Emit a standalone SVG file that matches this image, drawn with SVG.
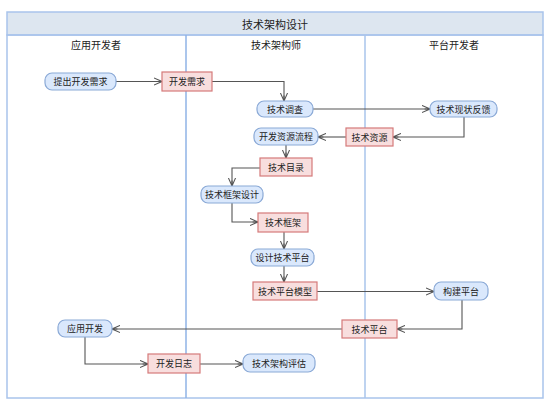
<svg xmlns="http://www.w3.org/2000/svg" width="554" height="408" viewBox="0 0 554 408">
<defs>
<style>
text{font-family:"Noto Sans CJK SC","Liberation Sans",sans-serif;font-size:9px;fill:#222;text-anchor:middle;dominant-baseline:central}
.t{font-size:11px}
.h{font-size:10px}
.b rect{fill:#dae8fc;stroke:#8aa9d6;stroke-width:1.2}
.r rect{fill:#f8dede;stroke:#d57a7a;stroke-width:1.2}
.c path{fill:none;stroke:#555;stroke-width:1.1;marker-end:url(#a)}
.lane{stroke:#a9c4eb;stroke-width:1.5;fill:none}
</style>
<marker id="a" viewBox="0 0 10 10" refX="9" refY="5" markerWidth="9" markerHeight="9" markerUnits="userSpaceOnUse" orient="auto">
<path d="M0,1 L9,5 L0,9 M3,5 L9,5" fill="none" stroke="#555" stroke-width="1.2"/>
</marker>
</defs>
<rect x="0" y="0" width="554" height="408" fill="#fff"/>
<g id="pool">
<rect x="7" y="12" width="536" height="23" fill="#dde6f0" stroke="#a9c4eb" stroke-width="1.5"/>
<rect x="7" y="35" width="536" height="363" class="lane"/>
<line x1="186" y1="35" x2="186" y2="398" stroke="#8fb3e6" stroke-width="1.5"/>
<line x1="365" y1="35" x2="365" y2="398" class="lane"/>
<text x="275" y="24" class="t">技术架构设计</text>
<text x="96" y="44" class="h">应用开发者</text>
<text x="276" y="44" class="h">技术架构师</text>
<text x="454" y="44" class="h">平台开发者</text>
</g>
<g id="connectors" class="c">
<path d="M116,81.5 H162"/>
<path d="M212,81.5 H284 V101"/>
<path d="M313,109 H430"/>
<path d="M464,117 V137 H393"/>
<path d="M346,137 H318"/>
<path d="M286,145 V158"/>
<path d="M260,168 H232 V186"/>
<path d="M232,203 V222 H258"/>
<path d="M284,232 V249"/>
<path d="M284,266 V282"/>
<path d="M317,291.5 H434"/>
<path d="M462,300 V329 H397"/>
<path d="M342,329 H112"/>
<path d="M85,337 V364 H148"/>
<path d="M200,364 H243"/>
</g>
<g id="n1" class="b"><rect x="45" y="73" width="71" height="17" rx="7"/><text x="80.5" y="81.5">提出开发需求</text></g>
<g id="n2" class="r"><rect x="162" y="72" width="50" height="19"/><text x="187" y="81.5">开发需求</text></g>
<g id="n3" class="b"><rect x="257" y="101" width="56" height="16" rx="7"/><text x="285" y="109">技术调查</text></g>
<g id="n4" class="b"><rect x="430" y="101" width="67" height="16" rx="7"/><text x="463.5" y="109">技术现状反馈</text></g>
<g id="n5" class="r"><rect x="346" y="128" width="47" height="18"/><text x="369.5" y="137">技术资源</text></g>
<g id="n6" class="b"><rect x="254" y="128" width="64" height="17" rx="7"/><text x="286" y="136.5">开发资源流程</text></g>
<g id="n7" class="r"><rect x="260" y="158" width="52" height="18"/><text x="286" y="167">技术目录</text></g>
<g id="n8" class="b"><rect x="201" y="186" width="62" height="17" rx="7"/><text x="232" y="194.5">技术框架设计</text></g>
<g id="n9" class="r"><rect x="258" y="213" width="50" height="19"/><text x="283" y="222.5">技术框架</text></g>
<g id="n10" class="b"><rect x="251" y="249" width="63" height="17" rx="7"/><text x="282.5" y="257.5">设计技术平台</text></g>
<g id="n11" class="r"><rect x="253" y="282" width="64" height="18"/><text x="285" y="291">技术平台模型</text></g>
<g id="n12" class="b"><rect x="434" y="282" width="54" height="18" rx="7"/><text x="461" y="291">构建平台</text></g>
<g id="n13" class="r"><rect x="342" y="320" width="55" height="18"/><text x="369.5" y="329">技术平台</text></g>
<g id="n14" class="b"><rect x="58" y="320" width="54" height="17" rx="7"/><text x="85" y="328.5">应用开发</text></g>
<g id="n15" class="r"><rect x="148" y="354" width="52" height="19"/><text x="174" y="363.5">开发日志</text></g>
<g id="n16" class="b"><rect x="243" y="354" width="72" height="18" rx="7"/><text x="279" y="363">技术架构评估</text></g>
</svg>
